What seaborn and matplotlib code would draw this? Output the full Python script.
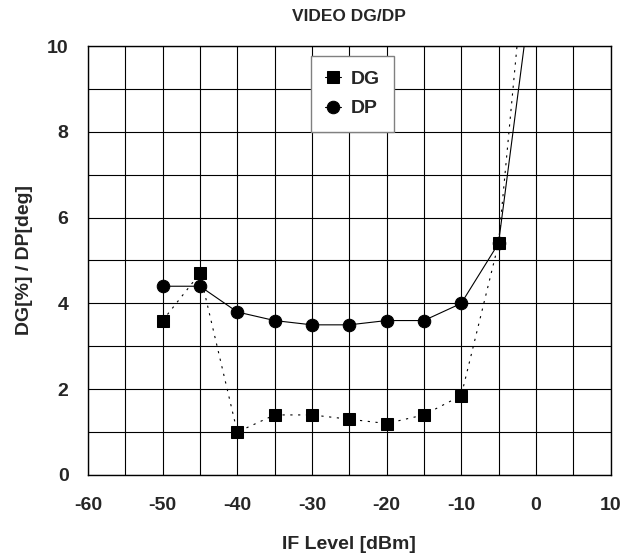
import matplotlib
matplotlib.use("Agg")
import matplotlib.pyplot as plt
import pandas as pd
import seaborn as sns

# IF level [dBm]
if_level = [-50, -45, -40, -35, -30, -25, -20, -15, -10, -5, 0]
# DG [%] and DP [deg] (last point lies above the axis)
dg = [3.6, 4.7, 1.0, 1.4, 1.4, 1.3, 1.2, 1.4, 1.85, 5.4, 14.7]
dp = [4.4, 4.4, 3.8, 3.6, 3.5, 3.5, 3.6, 3.6, 4.0, 5.4, 12.1]

x_ticks = [-60, -50, -40, -30, -20, -10, 0, 10]
y_ticks = [0, 2, 4, 6, 8, 10]

df = pd.DataFrame({"x": if_level, "DG": dg, "DP": dp})

sns.set_theme(style="white")
plt.rcParams["font.family"] = ["Liberation Sans", "DejaVu Sans"]
plt.rcParams["font.weight"] = "bold"
plt.rcParams["axes.unicode_minus"] = False

fig = plt.figure(figsize=(6.39, 5.59), dpi=100)
ax = fig.add_axes([0.1377, 0.1503, 0.8177, 0.7674])

sns.lineplot(ax=ax, data=df, x="x", y="DP", color="black", lw=0.8,
             marker="o", markersize=9, markeredgecolor="black",
             label="DP", zorder=3)
sns.lineplot(ax=ax, data=df, x="x", y="DG", color="black", lw=0.8,
             marker="s", markersize=8.5, markeredgecolor="black",
             label="DG", zorder=4)
ax.lines[-1].set_dashes([2, 5])

ax.set_xlim(-60, 10)
ax.set_ylim(0, 10)
ax.set_xticks(x_ticks)
ax.set_yticks(y_ticks)
ax.set_xticks(range(-60, 11, 5), minor=True)
ax.set_yticks(range(0, 11, 1), minor=True)
ax.grid(True, which="both", color="black", lw=0.8)
ax.tick_params(which="both", length=0)
ax.tick_params(axis="x", pad=16, labelsize=14)
ax.tick_params(axis="y", pad=14, labelsize=14)
for lab in ax.get_xticklabels() + ax.get_yticklabels():
    lab.set_fontweight("bold")
for s in ax.spines.values():
    s.set_color("black")
    s.set_linewidth(1.0)

ax.set_xlabel("IF Level [dBm]", fontsize=14, fontweight="bold", labelpad=16)
ax.set_ylabel("DG[%] / DP[deg]", fontsize=14, fontweight="bold", labelpad=10)
ax.set_title("VIDEO DG/DP", fontsize=12.5, fontweight="bold", pad=18)

handles, labels = ax.get_legend_handles_labels()
leg = ax.legend(handles[::-1], labels[::-1], loc="upper left",
                bbox_to_anchor=(0.4266, 0.977), frameon=True, fancybox=False,
                framealpha=1, edgecolor="#808080", handlelength=0.8,
                handletextpad=0.5, borderpad=0.75, borderaxespad=0,
                labelspacing=0.6, prop={"size": 14, "weight": "bold"})
leg.get_frame().set_linewidth(1.0)
for h in leg.legend_handles:
    h.set_linestyle("-")

fig.savefig("out.png", dpi=100)
